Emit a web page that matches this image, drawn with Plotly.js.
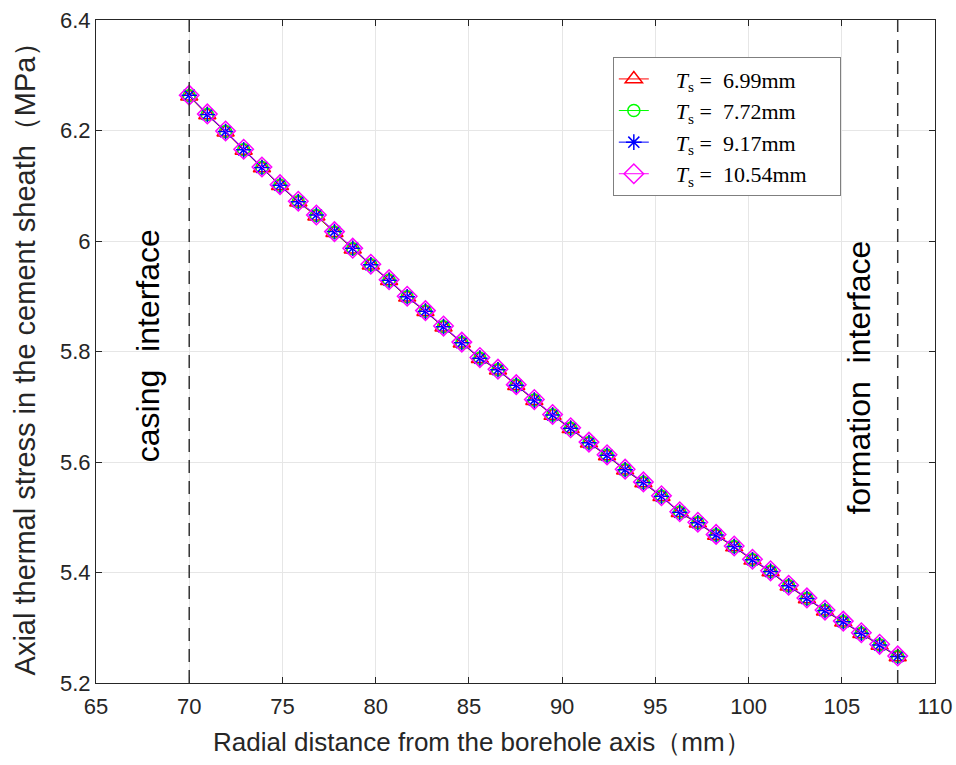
<!DOCTYPE html>
<html>
<head>
<meta charset="utf-8">
<script src="https://cdn.plot.ly/plotly-3.0.1.min.js"></script>
<style>html,body{margin:0;padding:0;background:#fff;}#chart{width:956px;height:765px;}</style>
</head>
<body>
<div id="chart"></div>
<script>
// Radial positions (mm): 40 evenly spaced samples between casing (70) and formation (108)
const radius = [70.00,70.97,71.95,72.92,73.90,74.87,75.85,76.82,77.79,78.77,
                79.74,80.72,81.69,82.67,83.64,84.62,85.59,86.56,87.54,88.51,
                89.49,90.46,91.44,92.41,93.38,94.36,95.33,96.31,97.28,98.26,
                99.23,100.21,101.18,102.15,103.13,104.10,105.08,106.05,107.03,108.00];

// Axial thermal stress (MPa) for each sheath thickness (curves overlap in the picture)
const stress699 = [6.262,6.228,6.197,6.164,6.132,6.100,6.070,6.045,6.015,5.985,
                   5.956,5.928,5.898,5.872,5.844,5.815,5.787,5.766,5.738,5.711,
                   5.684,5.660,5.634,5.611,5.585,5.562,5.537,5.508,5.489,5.467,
                   5.446,5.422,5.401,5.375,5.352,5.330,5.310,5.289,5.268,5.247];
const stress772 = [6.263,6.229,6.198,6.165,6.133,6.101,6.071,6.046,6.016,5.986,
                   5.957,5.929,5.899,5.873,5.845,5.816,5.788,5.767,5.739,5.712,
                   5.685,5.661,5.635,5.612,5.586,5.563,5.538,5.509,5.490,5.468,
                   5.447,5.423,5.402,5.376,5.353,5.331,5.311,5.290,5.269,5.248];
const stress917 = [6.264,6.229,6.198,6.165,6.133,6.101,6.071,6.047,6.017,5.987,
                   5.957,5.929,5.899,5.873,5.845,5.816,5.788,5.767,5.739,5.712,
                   5.685,5.661,5.635,5.612,5.586,5.563,5.538,5.509,5.490,5.468,
                   5.447,5.423,5.402,5.376,5.353,5.331,5.311,5.290,5.269,5.248];
const stress1054 = [6.264,6.230,6.199,6.166,6.134,6.102,6.072,6.047,6.017,5.987,
                    5.958,5.930,5.900,5.874,5.846,5.817,5.789,5.768,5.740,5.713,
                    5.686,5.662,5.636,5.613,5.587,5.564,5.539,5.510,5.491,5.469,
                    5.448,5.424,5.403,5.377,5.354,5.332,5.312,5.291,5.270,5.249];

const thicknessLabels = ['6.99mm','7.72mm','9.17mm','10.54mm'];
const lead = '&nbsp;&nbsp;&nbsp;&nbsp;';
const trail = '&nbsp;&nbsp;&nbsp;&nbsp;&nbsp;';
const seriesNames = thicknessLabels.map(t => lead + '<i>T</i><sub>s</sub> =&nbsp;&nbsp;' + t + trail);
const seriesValues = [stress699, stress772, stress917, stress1054];
const seriesColors = ['#ff0000','#00ff00','#0000ff','#ff00ff'];
const seriesSymbols = ['triangle-up-open','circle-open','asterisk-open','diamond-open'];
const seriesSizes = [15,12,13,15];

// Interface positions (mm) and their labels
const interfaces = [70, 108];
const interfaceLabels = ['casing  interface','formation  interface'];
const labelX = [67.8, 105.9];
const labelY = [5.81, 5.752];

const xTicks = [65,70,75,80,85,90,95,100,105,110];
const yTicks = [5.2,5.4,5.6,5.8,6.0,6.2,6.4];

const traces = seriesValues.map((vals,i)=>({
  x: radius, y: vals, type:'scatter', mode:'lines+markers', name: seriesNames[i],
  line:{color:seriesColors[i], width:1},
  marker:{symbol:seriesSymbols[i], size:seriesSizes[i], color:seriesColors[i],
          line:{color:seriesColors[i], width:1.5}}
}));

const sans = 'Liberation Sans, Arial, sans-serif';
const axisFont = {family:sans, size:22, color:'#262626'};

const shapes = interfaces.map(v=>({
  type:'line', xref:'x', yref:'paper', x0:v, x1:v, y0:0, y1:1,
  line:{color:'#333333', width:1.5, dash:'13px,8px'}, layer:'above'
}));

const annotations = interfaceLabels.map((t,i)=>({
  x: labelX[i], y: labelY[i], xref:'x', yref:'y', text:t, showarrow:false,
  textangle:-90, font:{family:sans, size:32, color:'#000000'}
}));
// x-axis title, placed like the reference (slightly left of the plot centre)
annotations.push({
  x:0.46, y:-0.089, xref:'paper', yref:'paper', xanchor:'center', yanchor:'middle',
  text:'Radial distance from the borehole axis（mm）', showarrow:false,
  font:{family:sans, size:26, color:'#262626'}
});

const layout = {
  width:956, height:765,
  margin:{l:96, r:21, t:20, b:82},
  paper_bgcolor:'#ffffff', plot_bgcolor:'#ffffff',
  showlegend:true,
  legend:{x:0.616, y:0.944, xanchor:'left', yanchor:'top',
          bgcolor:'#ffffff', bordercolor:'#7f7f7f', borderwidth:1,
          font:{family:'Liberation Serif, Times New Roman, serif', size:22, color:'#000000'},
          tracegroupgap:0},
  xaxis:{range:[65,110], tickvals:xTicks, ticks:'inside', ticklen:6, tickcolor:'#262626',
         showline:true, linecolor:'#262626', linewidth:1, mirror:'ticks',
         showgrid:true, gridcolor:'#e6e6e6', gridwidth:1, zeroline:false,
         tickfont:axisFont, ticklabelstandoff:4},
  yaxis:{range:[5.2,6.4], tickvals:yTicks, ticks:'inside', ticklen:6, tickcolor:'#262626',
         showline:true, linecolor:'#262626', linewidth:1, mirror:'ticks',
         showgrid:true, gridcolor:'#e6e6e6', gridwidth:1, zeroline:false,
         tickfont:axisFont,
         title:{text:'Axial thermal stress in the cement sheath（MPa）', font:{family:sans, size:29, color:'#262626'}, standoff:15}},
  shapes: shapes,
  annotations: annotations
};

Plotly.newPlot('chart', traces, layout, {displayModeBar:false, staticPlot:true});
</script>
</body>
</html>
